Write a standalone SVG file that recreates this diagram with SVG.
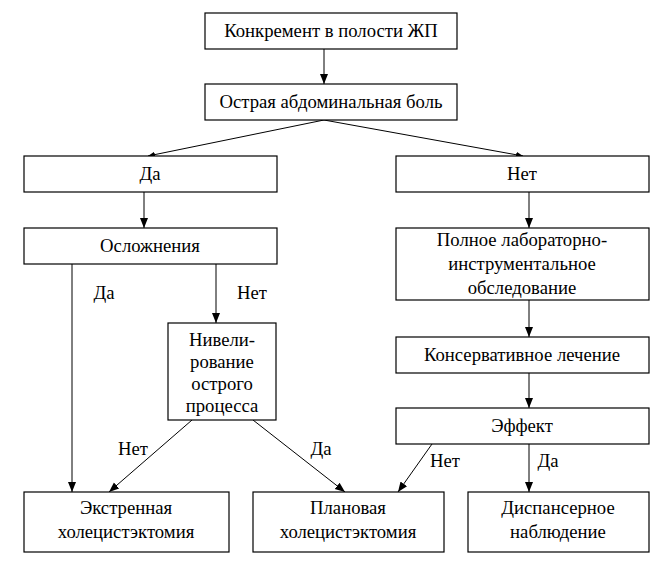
<svg xmlns="http://www.w3.org/2000/svg" width="661" height="565" viewBox="0 0 661 565">
<style>
rect{fill:#fff;stroke:#000;stroke-width:1.2}
text{font-family:'Liberation Serif','Times New Roman',serif;font-size:18.7px;fill:#000;text-anchor:middle}
.c line{stroke:#000;stroke-width:1;marker-end:url(#a)}
.c line.t{marker-end:url(#s)}
</style>
<defs>
<marker id="a" markerUnits="userSpaceOnUse" markerWidth="10" markerHeight="10" viewBox="0 0 10 10" refX="10" refY="5" orient="auto"><path d="M0,1 L10,5 L0,9 z" fill="#000"/></marker>
<marker id="s" markerUnits="userSpaceOnUse" markerWidth="8" markerHeight="8" viewBox="0 0 8 8" refX="7" refY="4" orient="auto"><path d="M0,1 L7,4 L0,7 z" fill="#000"/></marker>
</defs>
<rect width="661" height="565" style="stroke:none"/>
<g class="c" id="connectors">
<line x1="324" y1="49" x2="324" y2="84"/>
<line class="t" x1="324" y1="120" x2="148" y2="156"/>
<line class="t" x1="324" y1="120" x2="523" y2="156"/>
<line x1="144" y1="192" x2="144" y2="228"/>
<line x1="529" y1="192" x2="529" y2="228"/>
<line x1="529" y1="300" x2="529" y2="337"/>
<line x1="529" y1="373" x2="529" y2="408"/>
<line x1="529" y1="444" x2="529" y2="492"/>
<line x1="432" y1="444" x2="398" y2="492"/>
<line x1="72" y1="264" x2="72" y2="492"/>
<line x1="216" y1="264" x2="216" y2="323"/>
<line x1="192" y1="420" x2="109" y2="492"/>
<line x1="253" y1="420" x2="345" y2="492"/>
<text x="104" y="299">Да</text>
<text x="252" y="299">Нет</text>
<text x="133" y="455">Нет</text>
<text x="321" y="455">Да</text>
<text x="445" y="467">Нет</text>
<text x="548" y="467">Да</text>
</g>
<g id="n1"><rect x="205" y="13" width="252" height="36"/><text x="331" y="37">Конкремент в полости ЖП</text></g>
<g id="n2"><rect x="205" y="84" width="252" height="36"/><text x="331" y="108">Острая абдоминальная боль</text></g>
<g id="n3"><rect x="24" y="156" width="253" height="36"/><text x="150" y="180">Да</text></g>
<g id="n4"><rect x="396" y="156" width="253" height="36"/><text x="522" y="180">Нет</text></g>
<g id="n5"><rect x="24" y="228" width="253" height="36"/><text x="150" y="252">Осложнения</text></g>
<g id="n6"><rect x="396" y="228" width="253" height="72"/><text x="522" y="246">Полное лабораторно-</text><text x="522" y="270">инструментальное</text><text x="522" y="294">обследование</text></g>
<g id="n7"><rect x="396" y="337" width="253" height="36"/><text x="522" y="361">Консервативное лечение</text></g>
<g id="n8"><rect x="396" y="408" width="253" height="36"/><text x="522" y="432">Эффект</text></g>
<g id="n9"><rect x="168" y="323" width="108" height="97"/><text x="222" y="346">Нивели-</text><text x="222" y="368">рование</text><text x="222" y="390">острого</text><text x="222" y="412">процесса</text></g>
<g id="n10"><rect x="24" y="492" width="205" height="60"/><text x="126" y="514">Экстренная</text><text x="126" y="538">холецистэктомия</text></g>
<g id="n11"><rect x="253" y="492" width="191" height="60"/><text x="348" y="514">Плановая</text><text x="348" y="538">холецистэктомия</text></g>
<g id="n12"><rect x="468" y="492" width="181" height="60"/><text x="558" y="514">Диспансерное</text><text x="558" y="538">наблюдение</text></g>
</svg>
